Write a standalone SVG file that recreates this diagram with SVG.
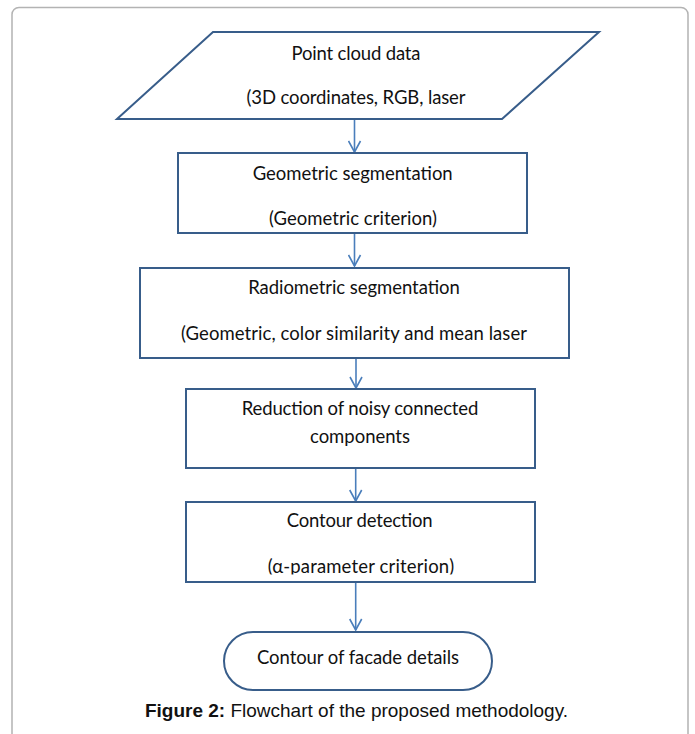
<svg xmlns="http://www.w3.org/2000/svg" width="695" height="734" viewBox="0 0 695 734">
<style>
.frame{fill:#ffffff;stroke:#b3b3b3;stroke-width:1.5}
.node{fill:#ffffff;stroke:#385d8a;stroke-width:2}
.lbl{font-family:Lato,"Open Sans","Liberation Sans",sans-serif;font-size:18.5px;fill:#111111;text-anchor:middle}
.cap{font-family:"Liberation Sans",Arial,sans-serif;font-size:19px;fill:#111111;text-anchor:middle}
.conn{stroke:#4a7ebb;stroke-width:1.6;fill:none}
</style>
<defs>
<marker id="arr" viewBox="0 0 14 14" refX="12" refY="7" markerWidth="14" markerHeight="14" markerUnits="userSpaceOnUse" orient="auto">
<path d="M1,1 L12,7 L1,13" fill="none" stroke="#4a7ebb" stroke-width="1.6"/>
</marker>
<clipPath id="c2"><rect x="178" y="153" width="349" height="74.5"/></clipPath>
<clipPath id="c5"><rect x="186" y="502" width="349" height="72.5"/></clipPath>
</defs>
<rect class="frame" x="12" y="7.5" width="676" height="740" rx="7"/>
<g id="connectors">
<line class="conn" x1="354.5" y1="120" x2="354.5" y2="152" marker-end="url(#arr)"/>
<line class="conn" x1="354.5" y1="233" x2="354.5" y2="266" marker-end="url(#arr)"/>
<line class="conn" x1="356" y1="358" x2="356" y2="388" marker-end="url(#arr)"/>
<line class="conn" x1="355.7" y1="468" x2="355.7" y2="501" marker-end="url(#arr)"/>
<line class="conn" x1="355.7" y1="582" x2="355.7" y2="630" marker-end="url(#arr)"/>
</g>
<g id="n1">
<polygon class="node" points="213,32 599,32 502,119 117,119"/>
<text class="lbl" x="356" y="60" textLength="129">Point cloud data</text>
<text class="lbl" x="356" y="104" textLength="219">(3D coordinates, RGB, laser</text>
</g>
<g id="n2">
<rect class="node" x="178" y="153" width="349" height="80"/>
<text class="lbl" x="352.7" y="180" textLength="200">Geometric segmentation</text>
<text class="lbl" x="353" y="225" textLength="168" clip-path="url(#c2)">(Geometric criterion)</text>
</g>
<g id="n3">
<rect class="node" x="140" y="268" width="429" height="90"/>
<text class="lbl" x="354" y="294" textLength="211.7">Radiometric segmentation</text>
<text class="lbl" x="354" y="340" textLength="346">(Geometric, color similarity and mean laser</text>
</g>
<g id="n4">
<rect class="node" x="186" y="389" width="349" height="79"/>
<text class="lbl" x="360" y="415" textLength="236.6">Reduction of noisy connected</text>
<text class="lbl" x="360" y="442.5" textLength="100">components</text>
</g>
<g id="n5">
<rect class="node" x="186" y="502" width="349" height="80"/>
<text class="lbl" x="359.7" y="527" textLength="146">Contour detection</text>
<text class="lbl" x="361" y="573" textLength="186.6" clip-path="url(#c5)">(α-parameter criterion)</text>
</g>
<g id="n6">
<rect class="node" x="224" y="632" width="268" height="58" rx="29" ry="29"/>
<text class="lbl" x="358" y="664" textLength="202">Contour of facade details</text>
</g>
<text class="cap" x="356.5" y="717"><tspan font-weight="bold">Figure 2:</tspan> Flowchart of the proposed methodology.</text>
</svg>
